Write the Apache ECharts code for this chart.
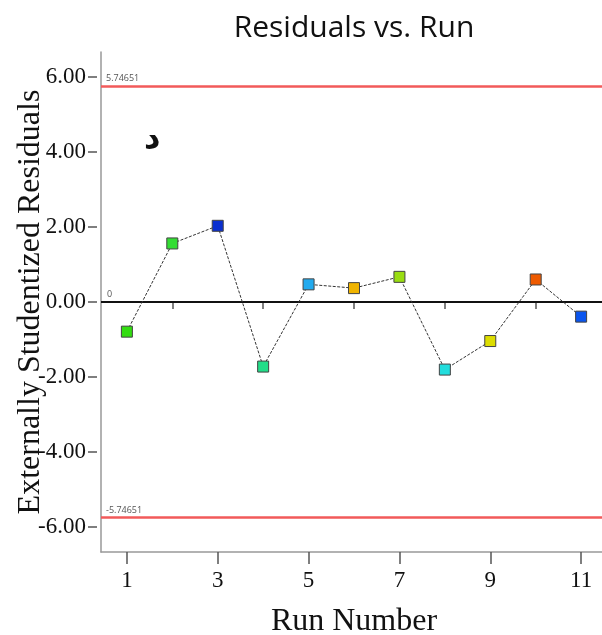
<!DOCTYPE html>
<html>
<head>
<meta charset="utf-8">
<script src="https://cdn.jsdelivr.net/npm/echarts@6/dist/echarts.min.js"></script>
<style>
  html, body { margin: 0; padding: 0; background: #fff; }
  #chart { width: 602px; height: 635px; }
</style>
</head>
<body>
<div id="chart"></div>
<script>
// run numbers and externally studentized residuals
var runs = [1, 2, 3, 4, 5, 6, 7, 8, 9, 10, 11];
var residuals = [-0.79, 1.56, 2.03, -1.72, 0.47, 0.37, 0.67, -1.80, -1.04, 0.60, -0.39];
var limit = 5.74651;
var yTicks = [-6, -4, -2, 0, 2, 4, 6];
var xMajor = [1, 3, 5, 7, 9, 11];
var xMinor = [2, 4, 6, 8, 10];

// marker fill for each run
var pointColors = ['#33dd11', '#33dd33', '#0a2fd0', '#22dd88', '#22aaee', '#f0b400',
                   '#99dd11', '#22dddd', '#dddd00', '#ee5a00', '#0a55ee'];

var chart = echarts.init(document.getElementById('chart'));

var serif = 'Liberation Serif';
var yMin = -6.66, yMax = 6.66;
var xMin = 0.43, xMax = 11.57;

var option = {
  animation: false,
  title: {
    text: 'Residuals vs. Run',
    left: 349,
    textAlign: 'center',
    top: 8,
    textStyle: { fontFamily: 'Open Sans', fontWeight: 'normal', fontSize: 30, color: '#111' }
  },
  grid: { left: 101, top: 52, right: -5, bottom: 83, containLabel: false, outerBoundsMode: 'none' },
  xAxis: [{
    type: 'value',
    min: xMin, max: xMax,
    name: 'Run Number',
    nameLocation: 'middle',
    nameGap: 54,
    nameTextStyle: { fontFamily: serif, fontSize: 32, color: '#111' },
    axisLine: { show: true, onZero: false, lineStyle: { color: '#999', width: 1.5 } },
    axisTick: { show: true, length: 12, customValues: xMajor, lineStyle: { color: '#555', width: 1.5 } },
    axisLabel: {
      customValues: xMajor, margin: 17,
      fontFamily: serif, fontSize: 23, color: '#111'
    },
    splitLine: { show: false }
  }, {
    type: 'value',
    position: 'bottom',
    min: xMin, max: xMax,
    axisLine: { show: false },
    axisTick: { show: true, length: 7, customValues: xMinor, lineStyle: { color: '#555', width: 1.5 } },
    axisLabel: { show: false },
    splitLine: { show: false }
  }],
  yAxis: [{
    type: 'value',
    min: yMin, max: yMax,
    axisLine: { show: true, onZero: false, lineStyle: { color: '#999', width: 1.5 } },
    axisTick: { show: false },
    axisLabel: { show: false },
    splitLine: { show: false }
  }, {
    type: 'value',
    position: 'left',
    offset: 4,
    min: yMin, max: yMax,
    name: 'Externally Studentized Residuals',
    nameLocation: 'middle',
    nameGap: 50,
    nameMoveOverlap: false,
    nameTextStyle: { fontFamily: serif, fontSize: 32, color: '#111' },
    axisLine: { show: false },
    axisTick: { show: true, length: 9, customValues: yTicks, lineStyle: { color: '#555', width: 1.5 } },
    axisLabel: {
      customValues: yTicks, margin: 11,
      fontFamily: serif, fontSize: 23, color: '#111',
      formatter: function (v) { return v.toFixed(2); }
    },
    splitLine: { show: false }
  }],
  series: [{
    type: 'line',
    xAxisIndex: 0,
    yAxisIndex: 0,
    data: runs.map(function (r, i) {
      return {
        value: [r, residuals[i]],
        itemStyle: { color: pointColors[i], borderColor: '#444', borderWidth: 1 }
      };
    }),
    symbol: 'rect',
    symbolSize: 11,
    lineStyle: { color: '#333', width: 1, type: [3, 1.5] },
    z: 5,
    markLine: {
      silent: true,
      symbol: 'none',
      precision: 5,
      data: [
        {
          yAxis: limit,
          lineStyle: { color: '#f25a5a', width: 2.5, type: 'solid' },
          label: { show: true, position: 'insideStartTop', distance: [5, 3], formatter: String(limit), fontSize: 9, color: '#555', fontFamily: 'Open Sans' }
        },
        {
          yAxis: 0,
          lineStyle: { color: '#111', width: 2, type: 'solid' },
          label: { show: true, position: 'insideStartTop', distance: [6, 3], formatter: '0', fontSize: 9, color: '#555', fontFamily: 'Open Sans' }
        },
        {
          yAxis: -limit,
          lineStyle: { color: '#f25a5a', width: 2.5, type: 'solid' },
          label: { show: true, position: 'insideStartTop', distance: [5, 3], formatter: String(-limit), fontSize: 9, color: '#555', fontFamily: 'Open Sans' }
        }
      ]
    }
  }],
  graphic: [{
    type: 'text',
    left: 144,
    top: 124,
    style: { text: 'د', font: 'bold 32px "DejaVu Sans"', fill: '#111' }
  }]
};

chart.setOption(option);
</script>
</body>
</html>
